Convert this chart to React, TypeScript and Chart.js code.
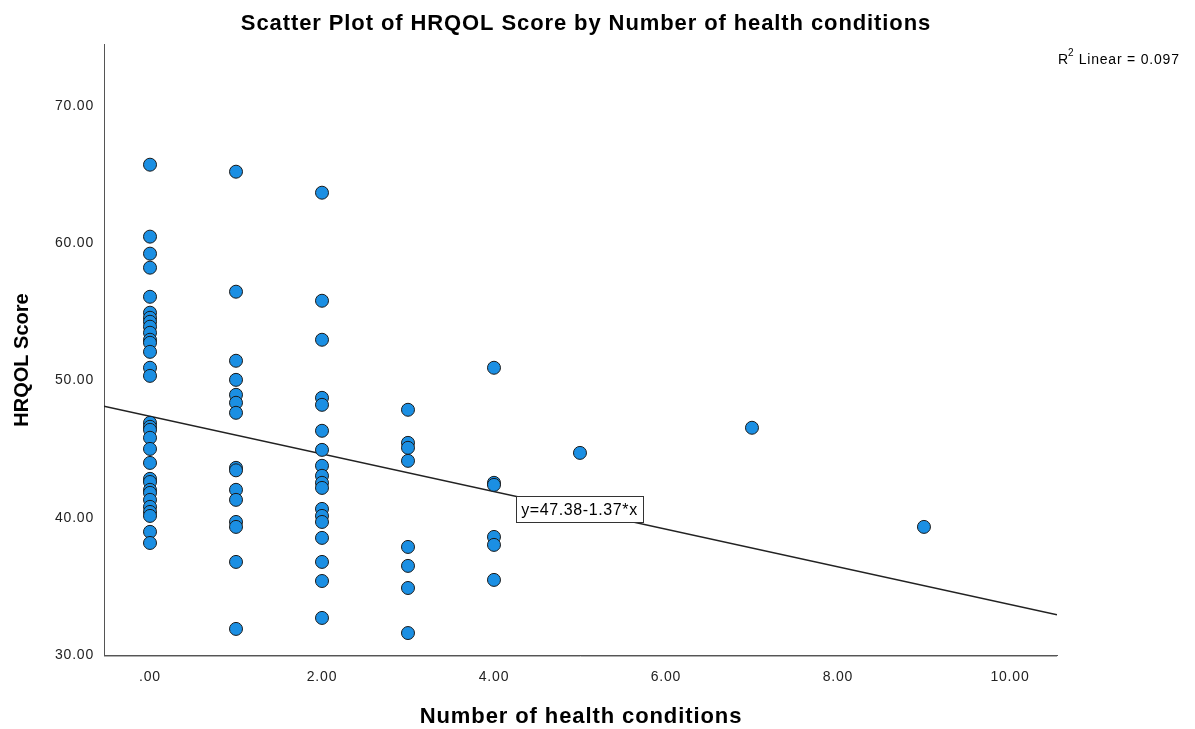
import React, { useEffect, useRef } from "react";
import { Chart, registerables } from "chart.js";

Chart.register(...registerables);

const conditions0 = [65.71, 60.47, 59.23, 58.21, 56.09, 54.93, 54.56, 54.27, 53.91, 53.47, 52.96, 52.74, 52.08, 50.92, 50.33, 46.91, 46.62, 46.4, 45.82, 45.01, 43.99, 42.83, 42.6, 42.03, 41.81, 41.3, 40.79, 40.42, 40.13, 38.97, 38.16];
const conditions1 = [65.2, 56.46, 51.43, 50.04, 48.95, 48.37, 47.64, 43.63, 43.45, 42.03, 41.3, 39.69, 39.33, 36.78, 31.9];
const conditions2 = [63.67, 55.8, 52.96, 48.73, 48.22, 46.33, 44.94, 43.78, 43.05, 42.54, 42.17, 40.64, 40.13, 39.69, 38.53, 36.78, 35.39, 32.7];
const conditions3 = [47.86, 45.45, 45.09, 44.14, 37.87, 36.49, 34.88, 31.6];
const conditions4 = [50.92, 42.54, 42.39, 38.6, 38.02, 35.47];
const conditions5 = [44.72];
const conditions7 = [46.55];
const conditions9 = [39.33];

const conditionGroups: [number, number[]][] = [
  [0, conditions0], [1, conditions1], [2, conditions2], [3, conditions3],
  [4, conditions4], [5, conditions5], [7, conditions7], [9, conditions9],
];

const fitIntercept = 47.38;
const fitSlope = -1.37;
const rSquared = "0.097";
const xTicks = [0, 2, 4, 6, 8, 10];
const yTicks = [30, 40, 50, 60, 70];
const xMin = -0.535;
const xMax = 10.547;
const yMin = 30;
const yMax = 74.5;

const FONT = "'Liberation Sans', Arial, sans-serif";

function fmt(v: number) {
  const s = v.toFixed(2);
  return s.startsWith("0.") ? s.slice(1) : s;
}

export default function App() {
  const ref = useRef<HTMLCanvasElement>(null);
  useEffect(() => {
    document.body.style.margin = "0";
    const points = conditionGroups.flatMap(([x, ys]) => ys.map((y) => ({ x, y })));
    const spacingPlugin = {
      id: "spacing",
      beforeDraw(chart: any) {
        (chart.ctx as any).letterSpacing = "0.8px";
      },
    };
    const textPlugin = {
      id: "texts",
      afterDraw(chart: any) {
        const ctx = chart.ctx;
        const xs = chart.scales.x;
        const ys = chart.scales.y;
        ctx.save();
        ctx.fillStyle = "#000";
        ctx.textAlign = "center";
        ctx.textBaseline = "middle";
        ctx.letterSpacing = "0.9px";
        ctx.font = `bold 22px ${FONT}`;
        ctx.fillText("Scatter Plot of HRQOL Score by Number of health conditions", 586, 24);
        ctx.fillText("Number of health conditions", 581, 717);
        ctx.letterSpacing = "0px";
        ctx.font = `bold 20px ${FONT}`;
        ctx.save();
        ctx.translate(22, 360);
        ctx.rotate(-Math.PI / 2);
        ctx.fillText("HRQOL Score", 0, 0);
        ctx.restore();
        // R squared
        ctx.textAlign = "left";
        ctx.letterSpacing = "0.8px";
        ctx.font = `14px ${FONT}`;
        ctx.fillText("R", 1058, 60);
        ctx.font = `10px ${FONT}`;
        ctx.fillText("2", 1068, 53);
        ctx.font = `14px ${FONT}`;
        ctx.fillText(" Linear = " + rSquared, 1074, 60);
        // bottom axis shadow
        ctx.strokeStyle = "#b0b0b0";
        ctx.lineWidth = 1;
        ctx.beginPath();
        ctx.moveTo(chart.chartArea.left, chart.chartArea.bottom + 1.5);
        ctx.lineTo(chart.chartArea.right, chart.chartArea.bottom + 1.5);
        ctx.stroke();
        // equation box
        const bx = xs.getPixelForValue(4.256);
        const by = ys.getPixelForValue(41.55);
        const bw = 127;
        const bh = 26;
        ctx.fillStyle = "#fff";
        ctx.fillRect(bx, by, bw, bh);
        ctx.strokeStyle = "#333";
        ctx.lineWidth = 1;
        ctx.strokeRect(Math.round(bx) + 0.5, Math.round(by) + 0.5, bw, bh);
        ctx.fillStyle = "#000";
        ctx.font = `16px ${FONT}`;
        ctx.letterSpacing = "0.6px";
        ctx.textAlign = "center";
        ctx.fillText(`y=${fitIntercept}${fitSlope}*x`, bx + bw / 2, by + bh / 2 + 1);
        ctx.restore();
      },
    };
    const chart = new Chart(ref.current!, {
      type: "scatter",
      data: {
        datasets: [
          {
            type: "scatter",
            data: points,
            backgroundColor: "#1b8fe3",
            borderColor: "#1a1a1a",
            borderWidth: 1,
            pointRadius: 6.5,
            order: 1,
          },
          {
            type: "line",
            data: [
              { x: xMin, y: fitIntercept + fitSlope * xMin },
              { x: xMax, y: fitIntercept + fitSlope * xMax },
            ],
            borderColor: "#222",
            borderWidth: 1.5,
            pointRadius: 0,
            fill: false,
            order: 2,
          } as any,
        ],
      },
      options: {
        animation: false,
        responsive: false,
        maintainAspectRatio: false,
        layout: { padding: { top: 44, right: 138, left: 0, bottom: 0 } },
        plugins: { legend: { display: false }, tooltip: { enabled: false } },
        scales: {
          x: {
            type: "linear",
            min: xMin,
            max: xMax,
            grid: { display: false, drawTicks: false },
            border: { display: true, color: "#555", width: 1 },
            afterBuildTicks: (axis: any) => {
              axis.ticks = xTicks.map((v) => ({ value: v }));
            },
            afterFit: (axis: any) => {
              axis.height = 74;
            },
            ticks: {
              padding: 14,
              maxRotation: 0,
              color: "#222",
              font: { family: FONT, size: 14 },
              callback: (v: any) => fmt(Number(v)),
            },
          },
          y: {
            type: "linear",
            min: yMin,
            max: yMax,
            grid: { display: false, drawTicks: false },
            border: { display: true, color: "#555", width: 1 },
            afterBuildTicks: (axis: any) => {
              axis.ticks = yTicks.map((v) => ({ value: v }));
            },
            afterFit: (axis: any) => {
              axis.width = 104;
            },
            ticks: {
              padding: 10,
              color: "#222",
              font: { family: FONT, size: 14 },
              callback: (v: any) => fmt(Number(v)),
            },
          },
        },
      },
      plugins: [spacingPlugin, textPlugin],
    });
    return () => chart.destroy();
  }, []);
  return (
    <div style={{ position: "fixed", left: 0, top: 0, width: 1195, height: 729, background: "#fff" }}>
      <canvas ref={ref} width={1195} height={729} style={{ width: 1195, height: 729 }} />
    </div>
  );
}
